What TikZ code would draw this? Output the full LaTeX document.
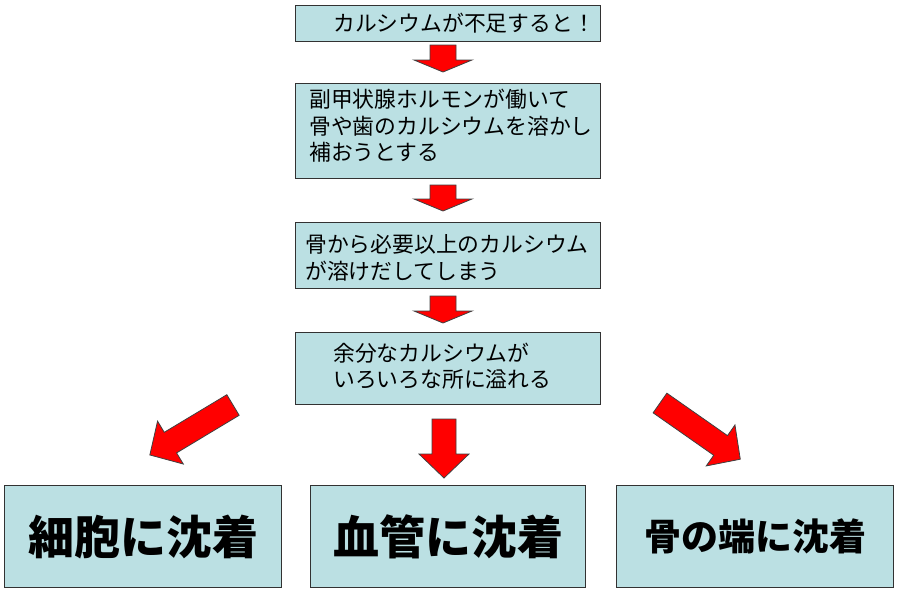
\documentclass[tikz,border=0pt]{standalone}
\usepackage{fontspec}
\newfontfamily\jp{Noto Sans CJK JP}
\definecolor{boxfill}{RGB}{187,224,227}
\definecolor{boxline}{RGB}{50,50,50}
\tikzset{
  pics/blkarrow/.style n args={5}{code={
    \draw[redarrow, rotate=#1] (0,{#4}) -- ({#2-#3},{#4}) -- ({#2-#3},{#5}) -- (#2,0)
      -- ({#2-#3},{-#5}) -- ({#2-#3},{-#4}) -- (0,{-#4}) -- cycle;
  }}
}
\begin{document}
\begin{tikzpicture}[x=1pt,y=-1pt,
  box/.style={draw=boxline, fill=boxfill, line width=1.3pt, anchor=north west, inner sep=0pt},
  txt/.style={anchor=west, inner sep=0pt, align=left, font=\jp\fontsize{21.8}{26.5}\selectfont},
  bigtxt/.style={font=\jp\bfseries\fontsize{46}{50}\selectfont},
  midtxt/.style={font=\jp\bfseries\fontsize{37}{42}\selectfont},
  redarrow/.style={fill=red, draw=black!75, line width=0.8pt, line join=miter}]
\path[fill=white] (0,0) rectangle (900,600);
\useasboundingbox (0,0) rectangle (900,600);

% upper boxes
\node[box, minimum width=305pt, minimum height=36pt] (b1) at (295,5) {};
\node[box, minimum width=305pt, minimum height=95pt] (b2) at (295,83) {};
\node[box, minimum width=305pt, minimum height=66pt] (b3) at (295,222) {};
\node[box, minimum width=305pt, minimum height=72pt] (b4) at (295,332) {};

\node[txt] (t1) at (333,23.5) {カルシウムが不足すると！};
\node[txt] (t2) at (309,126) {副甲状腺ホルモンが働いて\\骨や歯のカルシウムを溶かし\\補おうとする};
\node[txt] (t3) at (305,258) {骨から必要以上のカルシウム\\が溶けだしてしまう};
\node[txt] (t4) at (333,366) {余分なカルシウムが\\いろいろな所に溢れる};

% lower boxes
\node[box, minimum width=277pt, minimum height=102pt, bigtxt] (bA) at (4,485) {細胞に沈着};
\node[box, minimum width=275pt, minimum height=102pt, bigtxt] (bB) at (310,485) {血管に沈着};
\node[box, minimum width=277pt, minimum height=102pt, midtxt] (bC) at (616,485) {骨の端に沈着};

% arrows
\pic at (443,45) {blkarrow={-90}{27}{12}{13}{29}};
\pic at (443,185) {blkarrow={-90}{26}{12}{13}{29}};
\pic at (443,296) {blkarrow={-90}{27}{12}{13}{29}};
\pic at (444,419) {blkarrow={-90}{59}{24}{12}{25}};
\pic at (233,405) {blkarrow={211}{97}{24}{12}{25}};
\pic at (660,403) {blkarrow={-35}{98}{24}{12}{25}};
\end{tikzpicture}
\end{document}
